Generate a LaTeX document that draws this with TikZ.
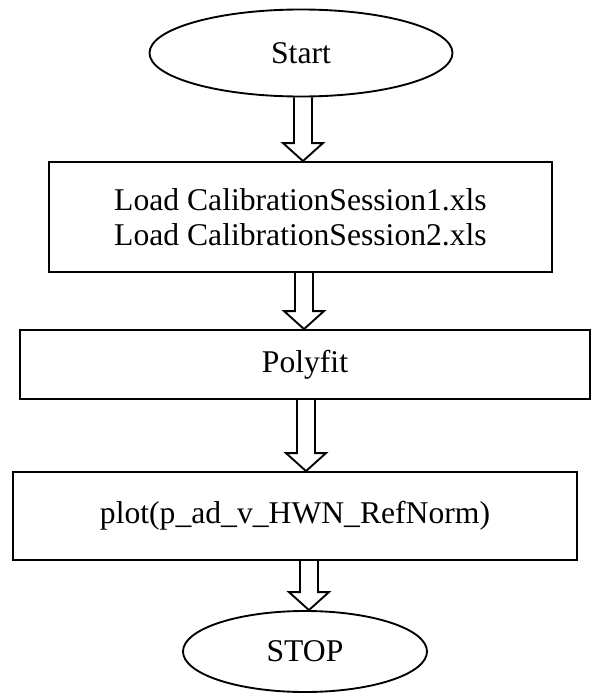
\documentclass[tikz,border=0pt]{standalone}
\usepackage{fontspec}
\setmainfont{Liberation Serif}
\usetikzlibrary{shapes.geometric,calc}

% hollow block arrow from the bottom of one node to the top of the next
\newcommand{\flowarrow}[3][0pt]{%
  \path ([xshift=#1]#2.south) coordinate (from) (from |- #3.north) coordinate (to);
  \draw[hollow] ($(from)+(-9,0)$) -- ($(to)+(-9,-18)$) -- ($(to)+(-20,-18)$) -- (to)
    -- ($(to)+(20,-18)$) -- ($(to)+(9,-18)$) -- ($(from)+(9,0)$);
}

\begin{document}
\begin{tikzpicture}[x=0.03cm,y=-0.03cm,line width=1.6pt,
  terminal/.style={draw, ellipse, inner sep=0pt, font=\fontsize{27}{30}\selectfont},
  process/.style={draw, rectangle, inner sep=0pt, align=center, font=\fontsize{27}{30}\selectfont},
  hollow/.style={line width=1.6pt, line join=miter}]
\useasboundingbox (0,0) rectangle (591,693);

\node[terminal, minimum width=9.09cm, minimum height=2.61cm] (start) at (301,53) {Start};
\node[process, minimum width=15.09cm, minimum height=3.3cm] (load) at (300.5,217)
  {Load CalibrationSession1.xls\\Load CalibrationSession2.xls};
\node[process, minimum width=17.1cm, minimum height=2.07cm] (fit) at (305,364.5) {Polyfit};
\node[process, minimum width=16.92cm, minimum height=2.64cm] (plot) at (295,516)
  {plot(p\_ad\_v\_HWN\_RefNorm)};
\node[terminal, minimum width=7.32cm, minimum height=2.43cm] (stop) at (305,651.5) {STOP};

\flowarrow[1.7pt]{start}{load}
\flowarrow[3pt]{load}{fit}
\flowarrow[0.85pt]{fit}{plot}
\flowarrow[11.9pt]{plot}{stop}
\end{tikzpicture}
\end{document}
